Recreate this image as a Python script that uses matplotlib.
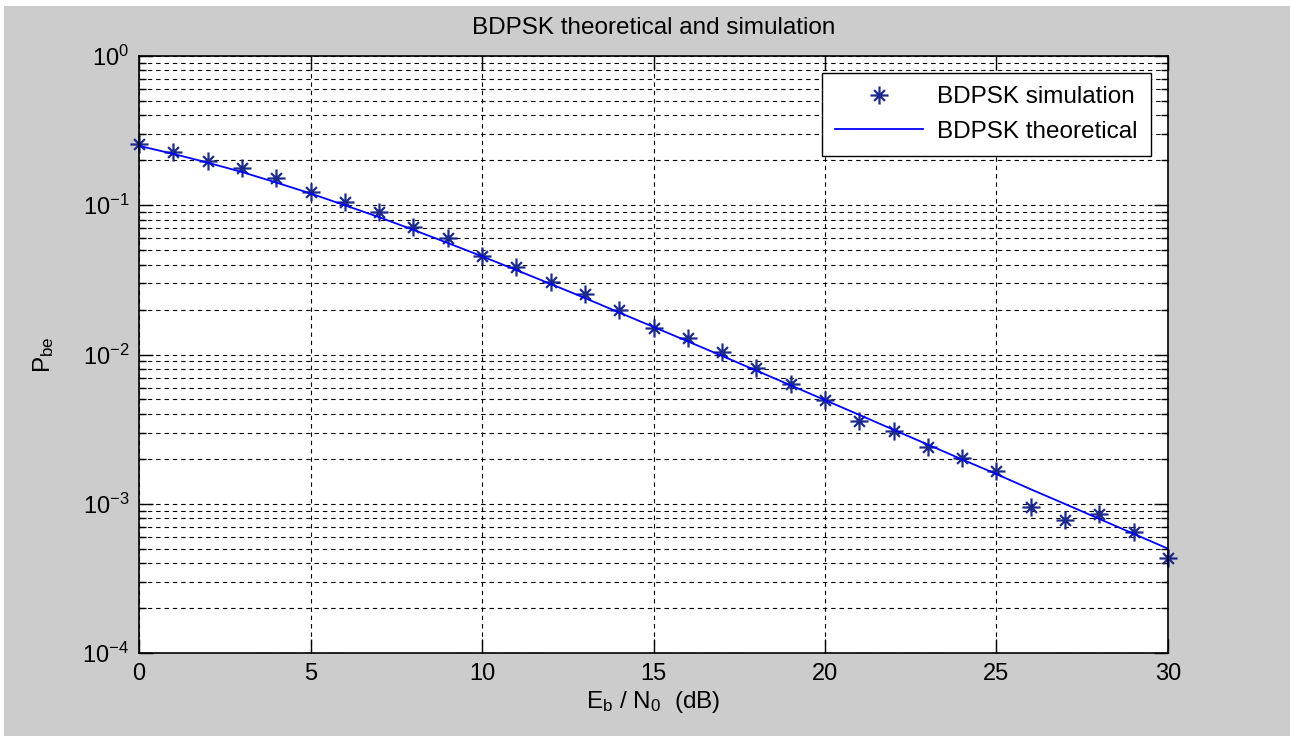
import matplotlib
matplotlib.use("Agg")
import matplotlib.pyplot as plt
from matplotlib.ticker import LogLocator, NullFormatter
from matplotlib.patches import Rectangle
from matplotlib.path import Path

plt.rcParams["font.family"] = ["Liberation Sans", "DejaVu Sans"]
plt.rcParams["mathtext.fontset"] = "custom"
plt.rcParams["mathtext.rm"] = "Liberation Sans"
plt.rcParams["mathtext.it"] = "Liberation Sans"

# Eb/N0 (dB)
snr_db = list(range(0, 31))
# simulated BER
ber_sim = [0.258, 0.228, 0.199, 0.177, 0.153, 0.123, 0.105, 0.0905, 0.0715, 0.0605,
           0.0458, 0.0383, 0.0307, 0.0254, 0.0199, 0.0151, 0.0129, 0.0104, 0.0081, 0.00635,
           0.00492, 0.00358, 0.00309, 0.00239, 0.00202, 0.00165, 0.000945, 0.000778,
           0.000855, 0.000645, 0.00043]
# theoretical BER curve
ber_theory = [0.25, 0.221, 0.193, 0.167, 0.142, 0.120, 0.100, 0.0832, 0.0684, 0.0559,
              0.0455, 0.0368, 0.0297, 0.0239, 0.0191, 0.0153, 0.01225, 0.00978, 0.0078,
              0.00622, 0.00495, 0.00394, 0.00313, 0.00249, 0.00198, 0.00158, 0.00125,
              0.000996, 0.000791, 0.000629, 0.0005]

# MATLAB-like asterisk: long + with shorter x
d = 0.6
star = Path([(0, -1), (0, 1), (-1, 0), (1, 0), (-d, -d), (d, d), (-d, d), (d, -d)],
            [Path.MOVETO, Path.LINETO] * 4)

fig = plt.figure(figsize=(12.9, 7.36), dpi=100, facecolor="#cccccc")
# white strip on top/left edge of the screenshot
fig.patches.append(Rectangle((0, 1 - 6/736), 1, 6/736, transform=fig.transFigure,
                             facecolor="white", edgecolor="none", zorder=-1))
fig.patches.append(Rectangle((0, 0), 4/1290, 1, transform=fig.transFigure,
                             facecolor="white", edgecolor="none", zorder=-1))

ax = fig.add_axes([139/1290, 83/736, 1029/1290, 597/736])
ax.set_facecolor("white")

ax.semilogy(snr_db, ber_sim, ls="none", marker=star, color="#1b2a8c", markersize=13,
            markeredgewidth=1.6, label="BDPSK simulation", clip_on=False)
ax.semilogy(snr_db, ber_theory, "-", color="#0000ff", lw=1.3, label="BDPSK theoretical")

ax.set_xlim(0, 30)
ax.set_ylim(1e-4, 1)
ax.set_xticks(range(0, 31, 5))
ax.yaxis.set_major_locator(LogLocator(base=10, numticks=10))
ax.yaxis.set_minor_locator(LogLocator(base=10, subs=range(2, 10), numticks=20))
ax.yaxis.set_minor_formatter(NullFormatter())

dash = (0, (4, 3.5))
ax.grid(True, which="major", axis="both", color="black", ls=dash, lw=0.8)
ax.grid(True, which="minor", axis="y", color="black", ls=dash, lw=0.8)

ax.tick_params(which="both", direction="in", top=True, right=True,
               labelsize=17, colors="black", pad=7)
ax.tick_params(which="major", length=10, width=1)
ax.tick_params(which="minor", length=5, width=1)
for s in ax.spines.values():
    s.set_linewidth(1.2)

ax.set_title("BDPSK theoretical and simulation", fontsize=17.5, pad=16)
ax.set_xlabel(r"E$_\mathregular{b}$ / N$_\mathregular{0}$  (dB)", fontsize=17.5, labelpad=3)
ax.set_ylabel(r"P$_\mathregular{be}$", fontsize=17.5, labelpad=19)

leg = ax.legend(loc="upper right", fontsize=17.5, fancybox=False, framealpha=1,
                edgecolor="black", borderaxespad=0.7, handlelength=3.6,
                borderpad=0.55, labelspacing=0.5, handletextpad=0.6)
leg.get_frame().set_linewidth(1.0)

fig.savefig("out.png", dpi=100, facecolor=fig.get_facecolor())
